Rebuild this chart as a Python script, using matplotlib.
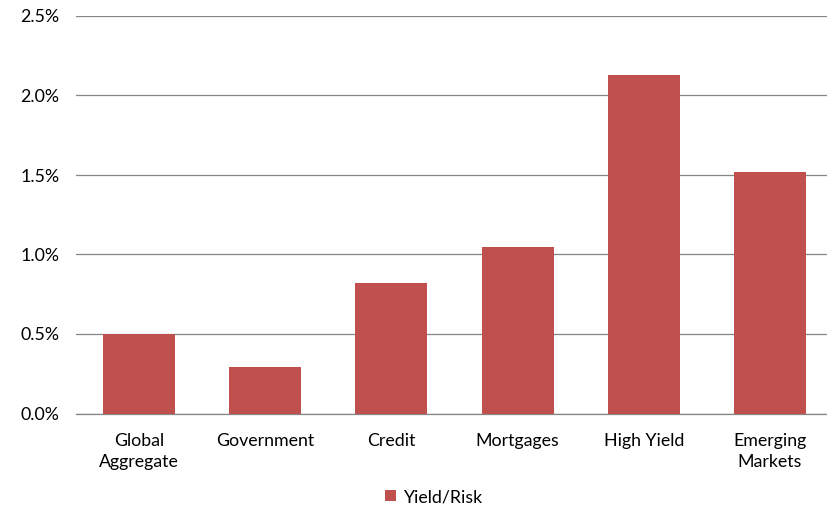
import matplotlib
matplotlib.use("Agg")
import matplotlib.pyplot as plt
from matplotlib.ticker import FuncFormatter

categories = ["Global\nAggregate", "Government", "Credit", "Mortgages", "High Yield", "Emerging\nMarkets"]
yield_risk = [0.50, 0.29, 0.82, 1.05, 2.13, 1.52]

plt.rcParams["font.family"] = ["Lato", "DejaVu Sans"]

fig = plt.figure(figsize=(8.27, 5.11), dpi=100)
ax = fig.add_axes([76 / 827, 1 - 413.5 / 511, 757 / 827, (413.5 - 16) / 511])

x = range(len(categories))
ax.bar(x, yield_risk, width=0.57, color="#C0504D", label="Yield/Risk", zorder=3)

ax.set_xlim(-0.5, len(categories) - 0.5)
ax.set_ylim(0, 2.5)
ax.set_yticks([0, 0.5, 1.0, 1.5, 2.0, 2.5])
ax.yaxis.set_major_formatter(FuncFormatter(lambda v, _: f"{v:.1f}%"))
ax.set_xticks(list(x))
ax.set_xticklabels(categories, linespacing=1.4)
ax.grid(axis="y", color="#868686", linewidth=0.9, zorder=0)
for s in ["top", "right", "left"]:
    ax.spines[s].set_visible(False)
ax.spines["bottom"].set_color("#868686")
ax.spines["bottom"].set_linewidth(0.9)
ax.tick_params(axis="both", length=0, labelsize=12.8, colors="black")
ax.tick_params(axis="x", pad=14)
ax.tick_params(axis="y", pad=12)

fig.legend(loc="center", bbox_to_anchor=(0.524, 14 / 511), frameon=False,
           fontsize=12.8, handlelength=0.6, handleheight=0.6, handletextpad=0.4,
           borderpad=0, borderaxespad=0)

fig.savefig("out.png", dpi=100)
